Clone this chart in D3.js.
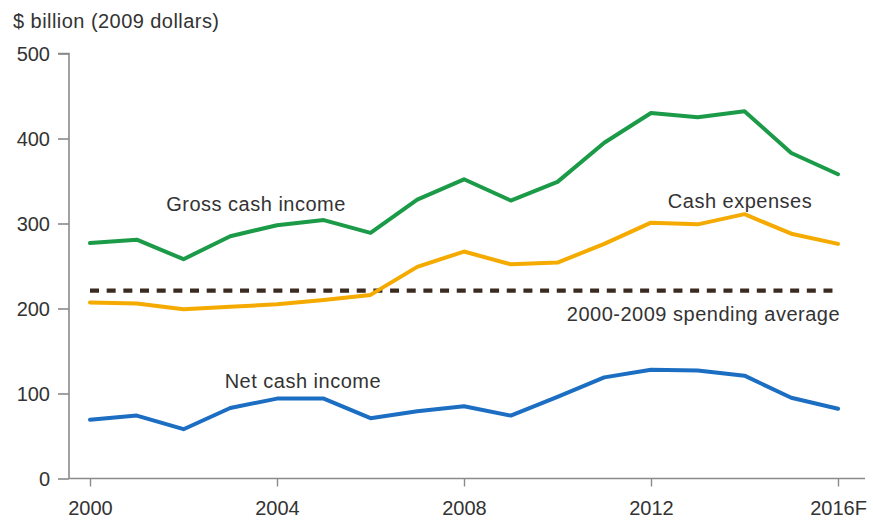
<!DOCTYPE html>
<html>
<head>
<meta charset="utf-8">
<script src="https://cdn.jsdelivr.net/npm/d3@7"></script>
<style>
  html, body { margin: 0; padding: 0; background: #fff; }
  svg { display: block; }
  text { font-family: "Liberation Sans", Arial, Helvetica, sans-serif; fill: #333; }
</style>
</head>
<body>
<svg id="chart" width="873" height="520"></svg>
<script>
// Farm cash income and expenses, $ billion (2009 dollars), 2000-2016 (2016 forecast)
const years = [2000, 2001, 2002, 2003, 2004, 2005, 2006, 2007, 2008,
               2009, 2010, 2011, 2012, 2013, 2014, 2015, 2016];
const grossCashIncome = [277, 281, 258, 285, 298, 304, 289, 328, 352,
                         327, 349, 395, 430, 425, 432, 383, 358];
const cashExpenses    = [207, 206, 199, 202, 205, 210, 216, 249, 267,
                         252, 254, 276, 301, 299, 311, 288, 276];
const netCashIncome   = [69, 74, 58, 83, 94, 94, 71, 79, 85,
                         74, 96, 119, 128, 127, 121, 95, 82];
const spendingAverage = 221;   // 2000-2009 average of cash expenses

const yTicks = [0, 100, 200, 300, 400, 500];
const xTicks = [2000, 2004, 2008, 2012, 2016];
const xTickLabels = ["2000", "2004", "2008", "2012", "2016F"];

const seriesNames = ["Gross cash income", "Cash expenses", "Net cash income"];
const seriesColors = ["#1b9a48", "#f5aa00", "#1b6ec2"];
const averageLabel = "2000-2009 spending average";
const unitLabel = "$ billion (2009 dollars)";

const svg = d3.select("#chart");

const x = d3.scaleLinear().domain([2000, 2016]).range([90, 838]);
const y = d3.scaleLinear().domain([0, 500]).range([478.5, 53.5]);

const axisColor = "#8a8a8a";
const axisX0 = 69;

// Unit title
svg.append("text")
  .attr("x", 13).attr("y", 28)
  .attr("font-size", 20).attr("letter-spacing", 0.45)
  .text(unitLabel);

// Y axis
const yAxis = d3.axisLeft(y).tickValues(yTicks).tickSize(11).tickPadding(8)
  .tickFormat(d3.format("d"));
const gy = svg.append("g").attr("transform", `translate(${axisX0},0)`).call(yAxis);
gy.select(".domain").attr("d", `M-11,${y(500)}H0V${y(0)}`)
  .attr("stroke", axisColor).attr("stroke-width", 1.6).attr("fill", "none");
gy.selectAll(".tick line").attr("stroke", axisColor).attr("stroke-width", 1.6);
gy.selectAll(".tick text")
  .attr("font-size", 20).attr("fill", "#333")
  .attr("font-family", "Liberation Sans, Arial, sans-serif")
  .attr("dy", "0.36em");

// X axis
const xAxis = d3.axisBottom(x).tickValues(xTicks).tickSize(8).tickPadding(14)
  .tickFormat((d, i) => xTickLabels[i]);
const gx = svg.append("g").attr("transform", `translate(0,${y(0)})`).call(xAxis);
gx.select(".domain").attr("d", `M${axisX0},0H865`)
  .attr("stroke", axisColor).attr("stroke-width", 1.6).attr("fill", "none");
gx.selectAll(".tick line").attr("stroke", axisColor).attr("stroke-width", 1.4);
gx.selectAll(".tick text")
  .attr("font-size", 20).attr("fill", "#333")
  .attr("font-family", "Liberation Sans, Arial, sans-serif")
  .attr("dy", "0.71em");

// 2000-2009 spending average (dashed reference line)
svg.append("line")
  .attr("x1", x(2000)).attr("x2", x(2016))
  .attr("y1", y(spendingAverage)).attr("y2", y(spendingAverage))
  .attr("stroke", "#3b2a20").attr("stroke-width", 4.2)
  .attr("stroke-dasharray", "9,7.67");

// Series lines
const line = d3.line().x((d, i) => x(years[i])).y(d => y(d));
[cashExpenses, grossCashIncome, netCashIncome].forEach((vals) => {
  const idx = vals === grossCashIncome ? 0 : vals === cashExpenses ? 1 : 2;
  svg.append("path")
    .datum(vals)
    .attr("d", line)
    .attr("fill", "none")
    .attr("stroke", seriesColors[idx])
    .attr("stroke-width", 4)
    .attr("stroke-linejoin", "round")
    .attr("stroke-linecap", "round");
});

// Direct labels
const labels = [
  { text: seriesNames[0], yr: 2001.63, v: 314.5 },
  { text: seriesNames[1], yr: 2012.36, v: 318.5 },
  { text: averageLabel,   yr: 2010.2,  v: 185 },
  { text: seriesNames[2], yr: 2002.88, v: 106.5 }
];
svg.selectAll("text.lbl").data(labels).join("text")
  .attr("class", "lbl")
  .attr("x", d => x(d.yr)).attr("y", d => y(d.v))
  .attr("font-size", 20).attr("letter-spacing", 0.5)
  .text(d => d.text);
</script>
</body>
</html>
